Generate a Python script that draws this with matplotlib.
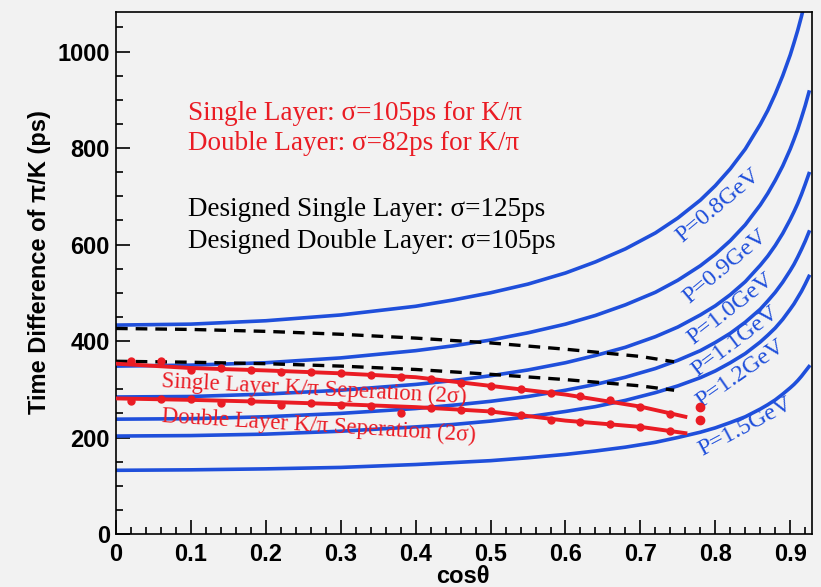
import numpy as np
import matplotlib
matplotlib.use("Agg")
import matplotlib.pyplot as plt
from matplotlib.ticker import MultipleLocator

# --- data ---
cos_grid = [0, 0.1, 0.2, 0.3, 0.4, 0.45, 0.5, 0.55, 0.6, 0.64, 0.68, 0.72, 0.75, 0.78, 0.8,
            0.82, 0.84, 0.86, 0.87, 0.88, 0.89, 0.9, 0.905, 0.91, 0.915, 0.92, 0.925]
p08 = [433, 435, 442, 454, 472, 485, 500, 518, 541, 564, 591, 624, 655, 692, 722,
       757, 798, 849, 878, 912, 950, 993, 1018, 1044, 1073, 1105, 1140]
p09 = [348, 350, 355, 365, 380, 390, 402, 417, 435, 453, 475, 501, 526, 556, 580,
       608, 641, 682, 706, 733, 763, 798, 818, 839, 863, 888, 916]
p10 = [284, 285, 290, 298, 310, 318, 328, 340, 355, 370, 387, 409, 429, 454, 473,
       496, 523, 557, 576, 598, 623, 652, 668, 685, 704, 725, 747]
p11 = [238, 239, 243, 250, 260, 267, 275, 285, 298, 310, 325, 343, 360, 380, 397,
       416, 439, 466, 483, 501, 522, 546, 559, 574, 590, 607, 626]
p12 = [203, 204, 207, 213, 222, 227, 234, 243, 254, 264, 277, 293, 307, 324, 338,
       355, 374, 398, 412, 427, 445, 466, 477, 490, 503, 518, 534]
p15 = [132, 133, 135, 138, 144, 148, 152, 158, 165, 172, 180, 190, 200, 211, 220,
       231, 243, 259, 268, 278, 290, 303, 310, 318, 327, 337, 347]
momenta = ["P=0.8GeV", "P=0.9GeV", "P=1.0GeV", "P=1.1GeV", "P=1.2GeV", "P=1.5GeV"]

# designed resolution (black dashed)
cos_design = [0, 0.1, 0.2, 0.3, 0.4, 0.5, 0.6, 0.7, 0.745]
design_single = [426, 424, 420, 414, 406, 396, 383, 368, 357]
design_double = [358, 356, 353, 348, 341, 331, 320, 307, 298]

# measured 2 sigma separation (red)
cos_meas = [0.02, 0.06, 0.10, 0.14, 0.18, 0.22, 0.26, 0.30, 0.34, 0.38,
            0.42, 0.46, 0.50, 0.54, 0.58, 0.62, 0.66, 0.70, 0.74]
sep_single = [358, 358, 340, 345, 340, 335, 336, 333, 329, 326,
              321, 314, 306, 300, 293, 285, 277, 263, 248]
sep_double = [276, 279, 280, 271, 276, 268, 272, 268, 266, 251,
              262, 258, 254, 247, 236, 233, 229, 221, 214]
cos_fit = [0, 0.1, 0.2, 0.3, 0.4, 0.5, 0.6, 0.7, 0.76]
fit_single = [353, 344, 339, 333, 325, 307, 289, 264, 243]
fit_double = [281, 278, 274, 269, 263, 254, 235, 222, 209]
cos_extra = [0.78, 0.78]
extra_pts = [263, 236]

BLUE = "#1f4fdb"
RED = "#ea1c24"
BG = "#f2f2f2"
serif = ["Liberation Serif", "DejaVu Serif"]
sans_bold = ["Liberation Sans", "DejaVu Sans"]

fig = plt.figure(figsize=(8.21, 5.87), dpi=100, facecolor=BG)
ax = fig.add_axes([0.1413, 0.0903, 0.989 - 0.1413, 0.9796 - 0.0903])
ax.set_facecolor(BG)

for vals in [p08, p09, p10, p11, p12, p15]:
    ax.plot(cos_grid, vals, color=BLUE, lw=2.6, solid_joinstyle="round", zorder=2)

ax.plot(cos_design, design_single, color="black", lw=2.4, ls=(0, (3.5, 2.4)), zorder=3)
ax.plot(cos_design, design_double, color="black", lw=2.4, ls=(0, (3.5, 2.4)), zorder=3)

ax.plot(cos_fit, fit_single, color=RED, lw=2.8, zorder=4)
ax.plot(cos_fit, fit_double, color=RED, lw=2.8, zorder=4)
ax.plot(cos_meas, sep_single, "o", color=RED, ms=5, zorder=5)
ax.plot(cos_meas, sep_double, "o", color=RED, ms=5, zorder=5)
ax.plot(cos_extra, extra_pts, "o", color=RED, ms=6, zorder=5)

# curve labels for the momenta
lab_pos = [(0.804, 680), (0.813, 555), (0.82, 466), (0.826, 398), (0.834, 332), (0.84, 223)]
lab_rot = [40, 40, 38, 37, 35, 28]
for txt, (x, y), r in zip(momenta, lab_pos, lab_rot):
    ax.text(x, y, txt, color=BLUE, fontsize=17.5, family=serif, rotation=r,
            ha="center", va="center", rotation_mode="anchor")

ax.text(0.265, 300, "Single Layer K/\u03c0 Seperation (2\u03c3)", color=RED, fontsize=16.5,
        family=serif, rotation=-3, ha="center", va="center", rotation_mode="anchor", zorder=6)
ax.text(0.27, 224, "Double Layer K/\u03c0 Seperation (2\u03c3)", color=RED, fontsize=16.5,
        family=serif, rotation=-3.5, ha="center", va="center", rotation_mode="anchor", zorder=6)

ax.text(0.096, 872, "Single Layer: \u03c3=105ps for K/\u03c0", color=RED, fontsize=19.5,
        family=serif, va="center")
ax.text(0.096, 810, "Double Layer: \u03c3=82ps for K/\u03c0", color=RED, fontsize=19.5,
        family=serif, va="center")
ax.text(0.096, 673, "Designed Single Layer: \u03c3=125ps", color="black", fontsize=19.5,
        family=serif, va="center")
ax.text(0.096, 607, "Designed Double Layer: \u03c3=105ps", color="black", fontsize=19.5,
        family=serif, va="center")

ax.set_xlim(0, 0.929)
ax.set_ylim(0, 1082)
ax.xaxis.set_major_locator(MultipleLocator(0.1))
ax.xaxis.set_minor_locator(MultipleLocator(0.02))
ax.yaxis.set_major_locator(MultipleLocator(200))
ax.yaxis.set_minor_locator(MultipleLocator(50))
ax.tick_params(which="both", direction="in", top=False, right=False, width=1.2)
ax.tick_params(which="major", length=10)
ax.tick_params(which="minor", length=5)
ax.tick_params(axis="x", pad=6.5)
ax.tick_params(axis="y", pad=4.5)
ax.xaxis.set_major_formatter(plt.FuncFormatter(lambda v, p: "0" if v == 0 else f"{v:.1f}"))
for lab in ax.get_xticklabels() + ax.get_yticklabels():
    lab.set_family(sans_bold)
    lab.set_fontweight("bold")
    lab.set_fontsize(17)
for sp in ax.spines.values():
    sp.set_linewidth(1.2)

# x title sits right at the bottom edge, as in the original
fig.text(463 / 821, 4 / 587, "cos\u03b8", family=sans_bold, fontweight="bold",
         fontsize=17, ha="center", va="baseline")
ax.set_ylabel("Time Difference of \u03c0/K (ps)", family=sans_bold, fontweight="bold",
              fontsize=17)
ax.yaxis.set_label_coords(-0.094, 0.52)

fig.savefig("out.png", dpi=100, facecolor=BG)
